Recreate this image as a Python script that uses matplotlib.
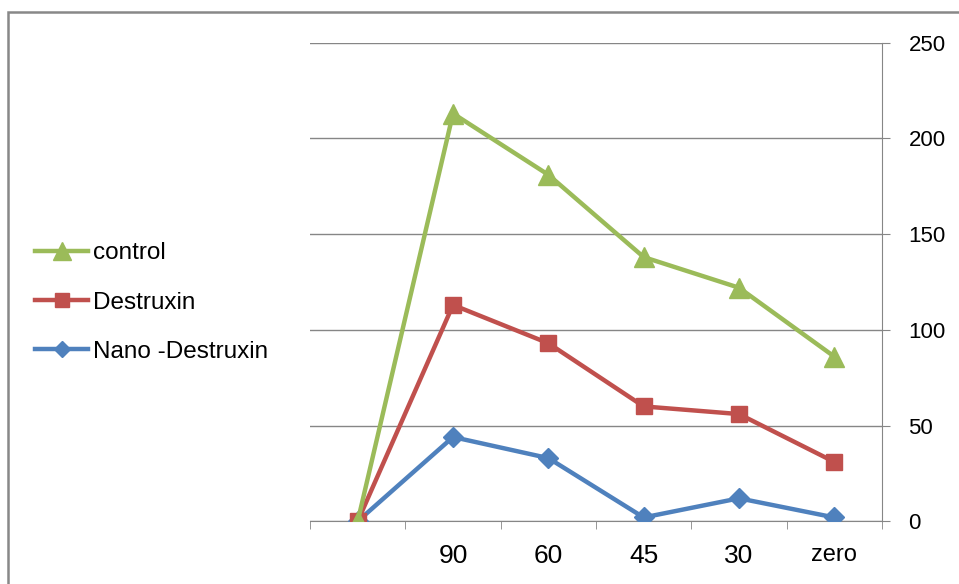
import matplotlib
matplotlib.use("Agg")
import matplotlib.pyplot as plt
from matplotlib.patches import Rectangle

# data
categories = ["", "90", "60", "45", "30", "zero"]
control = [0, 213, 181, 138, 122, 86]
destruxin = [0, 113, 93, 60, 56, 31]
nano_destruxin = [0, 44, 33, 2, 12, 2]

grey = "#868686"
fig = plt.figure(figsize=(9.59, 5.84), dpi=100)
ax = fig.add_axes([0.3233, 0.1074, 0.5964, 0.8195])

x = list(range(len(categories)))
l_nano, = ax.plot(x, nano_destruxin, color="#4F81BD", lw=3.2, marker="D",
                  markersize=10, label="Nano -Destruxin", zorder=3)
l_des, = ax.plot(x, destruxin, color="#C0504D", lw=3.2, marker="s",
                 markersize=12, label="Destruxin", zorder=4)
l_ctl, = ax.plot(x, control, color="#9BBB59", lw=3.2, marker="^",
                 markersize=15, label="control", zorder=5)

ax.set_xlim(-0.5, len(categories) - 0.5)
ax.set_ylim(0, 250)
ax.set_yticks(range(0, 251, 50))
ax.yaxis.tick_right()
ax.grid(axis="y", color=grey, lw=1)
ax.set_axisbelow(True)
for s in ["left", "top"]:
    ax.spines[s].set_visible(False)
for s in ["right", "bottom"]:
    ax.spines[s].set_color(grey)
ax.tick_params(axis="y", length=6, color=grey, pad=13, labelsize=16)
for t in ax.get_yticklabels():
    t.set_fontfamily("Liberation Sans")

ax.set_xticks(x)
ax.set_xticklabels(categories, fontsize=19, fontfamily="Liberation Sans")
ax.set_xticks([i - 0.5 for i in range(len(categories) + 1)], minor=True)
ax.tick_params(axis="x", which="major", length=0, pad=16)
ax.tick_params(axis="x", which="minor", length=6, color=grey)
ax.get_xticklabels()[-1].set_fontsize(17)

fig.legend(handles=[l_ctl, l_des, l_nano], loc="center left",
           bbox_to_anchor=(0.0136, 0.482), frameon=False,
           prop={"family": "Liberation Sans", "size": 17.5},
           handlelength=2.2, handletextpad=0.2, labelspacing=1.13,
           markerscale=0.85)

# outer chart border (cut off at right and bottom)
fig.patches.append(Rectangle((8 / 959, -0.1), 1.2, 1 - 12 / 584 + 0.1,
                             transform=fig.transFigure, fill=False,
                             edgecolor="#888888", lw=1.8))

fig.savefig("out.png", dpi=100)
